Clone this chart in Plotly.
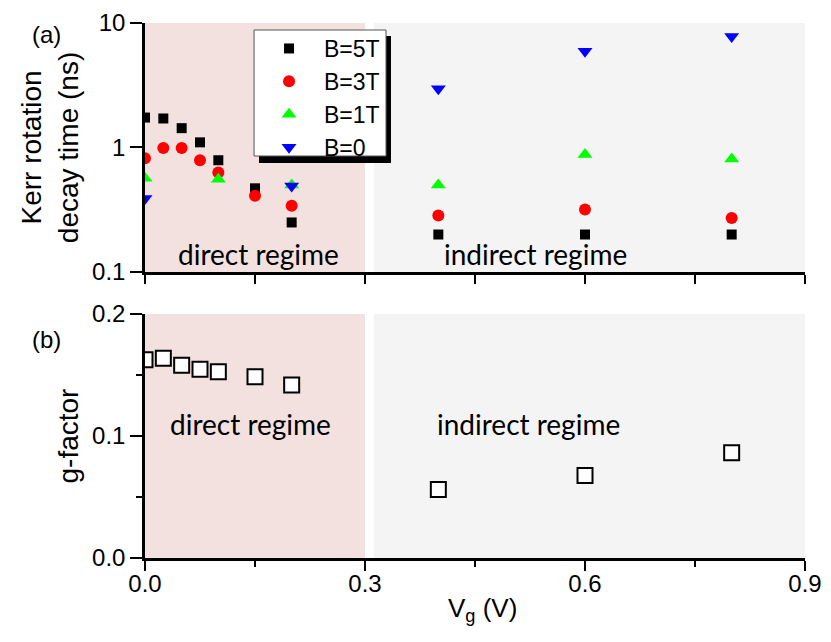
import plotly.graph_objects as go

# Panel (a): Kerr rotation decay time (ns) vs gate voltage
vg_5t = [0, 0.025, 0.05, 0.075, 0.1, 0.15, 0.2, 0.4, 0.6, 0.8]
tau_5t = [1.74, 1.71, 1.43, 1.10, 0.79, 0.47, 0.25, 0.20, 0.20, 0.20]

vg_3t = [0, 0.025, 0.05, 0.075, 0.1, 0.15, 0.2, 0.4, 0.6, 0.8]
tau_3t = [0.82, 0.99, 0.99, 0.79, 0.63, 0.41, 0.34, 0.284, 0.317, 0.272]

vg_1t = [0, 0.1, 0.2, 0.4, 0.6, 0.8]
tau_1t = [0.565, 0.557, 0.50, 0.50, 0.88, 0.81]

vg_0t = [0, 0.2, 0.4, 0.6, 0.8]
tau_0t = [0.39, 0.49, 2.97, 5.93, 7.8]

# Panel (b): g-factor
vg_g = [0, 0.025, 0.05, 0.075, 0.1, 0.15, 0.2, 0.4, 0.6, 0.8]
g_factor = [0.1625, 0.1638, 0.158, 0.1548, 0.1526, 0.1485, 0.1419, 0.0562, 0.0677, 0.0863]

# regime boundaries (V)
direct_span = [0.0, 0.3]
indirect_span = [0.312, 0.9]

log_major = [0.1, 1, 10]
log_minor = [0.2, 0.3, 0.4, 0.5, 0.6, 0.7, 0.8, 0.9, 2, 3, 4, 5, 6, 7, 8, 9]

PINK = '#F3E1DF'
GRAY = '#F4F4F4'
AX_FONT = dict(family='Liberation Sans, Arial', size=24, color='black')
TITLE_FONT = dict(family='Liberation Sans, Arial', size=28, color='black')
LABEL_FONT = dict(family='Lato, Open Sans', size=28, color='black')

fig = go.Figure()

series = [
    (vg_5t, tau_5t, 'B=5T', 'square', 'black', 10),
    (vg_3t, tau_3t, 'B=3T', 'circle', 'red', 12),
    (vg_1t, tau_1t, 'B=1T', 'triangle-up', '#00FF00', 13),
    (vg_0t, tau_0t, 'B=0', 'triangle-down', 'blue', 13),
]
for xs, ys, name, sym, col, size in series:
    fig.add_trace(go.Scatter(
        x=xs, y=ys, name=name, mode='markers',
        marker=dict(symbol=sym, color=col, size=size, line=dict(width=0)),
        xaxis='x', yaxis='y'
    ))

fig.add_trace(go.Scatter(
    x=vg_g, y=g_factor, name='g', mode='markers', showlegend=False,
    marker=dict(symbol='square', color='white', size=15,
                line=dict(color='black', width=2)),
    xaxis='x2', yaxis='y2'
))

# shaded regimes in both panels
for xref, yref in [('x', 'y domain'), ('x2', 'y2 domain')]:
    for span, col in [(direct_span, PINK), (indirect_span, GRAY)]:
        fig.add_shape(type='rect', xref=xref, yref=yref,
                      x0=span[0], x1=span[1], y0=0, y1=1,
                      fillcolor=col, line=dict(width=0), layer='below')

# legend frame with drop shadow
fig.add_shape(type='rect', xref='paper', yref='paper',
              x0=0.1727, x1=0.3727, y0=0.7383, y1=0.9757,
              fillcolor='black', line=dict(width=0), layer='above')
fig.add_shape(type='rect', xref='paper', yref='paper',
              x0=0.1652, x1=0.3652, y0=0.7514, y1=0.9869,
              fillcolor='white', line=dict(color='#555555', width=1), layer='above')

common_x = dict(range=[0, 0.9], showgrid=False, zeroline=False, automargin=False,
                showline=True, linecolor='black', linewidth=2.5,
                tickcolor='black', tickwidth=2)
common_y = dict(showgrid=False, zeroline=False, showline=True, automargin=False,
                linecolor='black', linewidth=2.5, tickcolor='black', tickwidth=2)
log_ticks = dict(showgrid=False, zeroline=False, showline=False, automargin=False,
                 anchor='x', overlaying='y', type='log', range=[-1, 1],
                 tickvals=log_minor, ticklen=6, tickwidth=2, tickcolor='black',
                 showticklabels=False)

# page body adds an 8px offset, so the figure is 8px smaller on each axis
fig.update_layout(
    width=823, height=634,
    margin=dict(l=137, r=26, t=15, b=84),
    paper_bgcolor='white', plot_bgcolor='white',
    font=AX_FONT,
    showlegend=True,
    legend=dict(x=0.1652, y=0.9925, xanchor='left', yanchor='top',
                bgcolor='rgba(0,0,0,0)', borderwidth=0,
                font=dict(family='Liberation Sans, Arial', size=23, color='black'),
                tracegroupgap=0, itemsizing='trace', itemwidth=60),
    xaxis=dict(common_x, anchor='y', domain=[0, 1], ticks='outside',
               tick0=0, dtick=0.15, ticklen=9, showticklabels=False),
    xaxis3=dict(common_x, anchor='y', overlaying='x', side='top', ticks='inside',
                tick0=0, dtick=0.15, ticklen=7, showticklabels=False),
    yaxis=dict(common_y, anchor='x', domain=[0.5346, 1], type='log', range=[-1, 1],
               tickvals=log_major, ticktext=['0.1', '1', '10'],
               ticks='outside', ticklen=12,
               title=dict(text='Kerr rotation<br>decay time (ns)', font=TITLE_FONT,
                          standoff=6)),
    yaxis3=dict(common_y, anchor='x', overlaying='y', side='right', type='log',
                range=[-1, 1], tickvals=log_major, ticks='inside', ticklen=10,
                showticklabels=False),
    yaxis5=dict(log_ticks, side='left', ticks='outside'),
    yaxis6=dict(log_ticks, side='right', ticks='inside'),
    xaxis2=dict(common_x, anchor='y2', domain=[0, 1], ticks='outside',
                tick0=0, dtick=0.3, tickformat='.1f', ticklen=10,
                ticklabelstandoff=-8,
                minor=dict(ticks='outside', ticklen=6, tickwidth=2, tickcolor='black',
                           dtick=0.15)),
    xaxis4=dict(common_x, anchor='y2', overlaying='x2', side='top', ticks='inside',
                tick0=0, dtick=0.15, ticklen=7, showticklabels=False),
    yaxis2=dict(common_y, anchor='x2', domain=[0, 0.456], range=[0, 0.2],
                tick0=0, dtick=0.1, tickformat='.1f', ticks='outside', ticklen=12,
                minor=dict(ticks='outside', ticklen=6, tickwidth=2, tickcolor='black',
                           dtick=0.05),
                title=dict(text='g-factor', font=TITLE_FONT, standoff=6)),
    yaxis4=dict(common_y, anchor='x2', overlaying='y2', side='right', range=[0, 0.2],
                tick0=0, dtick=0.05, ticks='inside', ticklen=6, showticklabels=False),
)

# regime labels, panel tags and x-axis title
fig.add_annotation(text='direct regime', x=0.1546, y=-0.854, xref='x', yref='y',
                   showarrow=False, font=LABEL_FONT)
fig.add_annotation(text='indirect regime', x=0.532, y=-0.854, xref='x', yref='y',
                   showarrow=False, font=LABEL_FONT)
fig.add_annotation(text='direct regime', x=0.1438, y=0.1095, xref='x2', yref='y2',
                   showarrow=False, font=LABEL_FONT)
fig.add_annotation(text='indirect regime', x=0.523, y=0.1095, xref='x2', yref='y2',
                   showarrow=False, font=LABEL_FONT)
fig.add_annotation(text='(a)', x=-0.15, y=0.979, xref='paper', yref='paper',
                   xanchor='center', yanchor='middle', showarrow=False, font=AX_FONT)
fig.add_annotation(text='(b)', x=-0.15, y=0.4075, xref='paper', yref='paper',
                   xanchor='center', yanchor='middle', showarrow=False, font=AX_FONT)
fig.add_annotation(text='V<sub>g</sub> (V)', x=0.512, y=-0.097, xref='paper',
                   yref='paper', xanchor='center', yanchor='middle', showarrow=False,
                   font=dict(TITLE_FONT, size=26))

fig.write_html("out.html")
